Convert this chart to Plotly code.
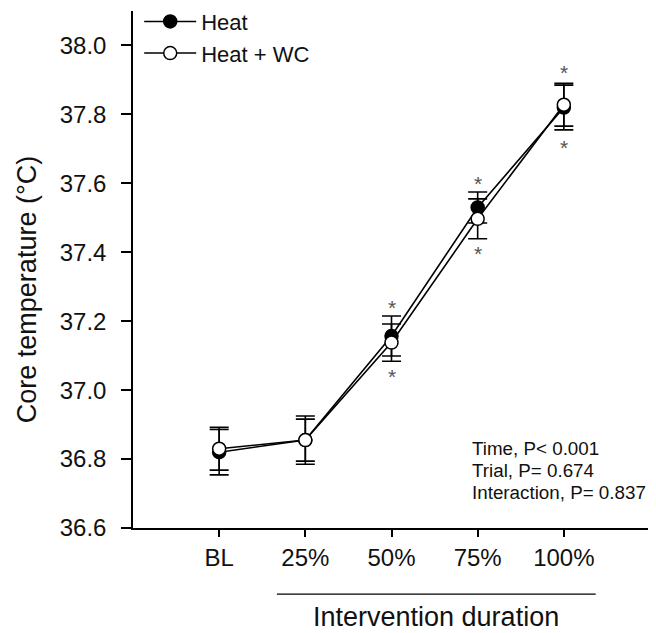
import plotly.graph_objects as go

categories = ["BL", "25%", "50%", "75%", "100%"]
heat_mean = [36.82, 36.855, 37.157, 37.53, 37.82]
heat_err = [0.066, 0.07, 0.058, 0.045, 0.065]
wc_mean = [36.83, 36.855, 37.138, 37.497, 37.828]
wc_err = [0.062, 0.061, 0.054, 0.058, 0.062]

star_x = ["50%", "50%", "75%", "75%", "100%", "100%"]
star_y = [37.249, 37.047, 37.609, 37.404, 37.929, 37.714]

y_ticks = [36.6, 36.8, 37.0, 37.2, 37.4, 37.6, 37.8, 38.0]
stats_lines = ["Time, P< 0.001", "Trial, P= 0.674", "Interaction, P= 0.837"]

FONT = "Liberation Sans, Arial, sans-serif"
TXT = "#111111"

fig = go.Figure()
fig.add_trace(go.Scatter(
    x=categories, y=heat_mean, name="Heat", mode="lines+markers",
    line=dict(color="black", width=1.6),
    marker=dict(symbol="circle", size=13, color="black", line=dict(color="black", width=1.5)),
    error_y=dict(type="data", array=heat_err, color="black", thickness=1.6, width=9.5),
))
fig.add_trace(go.Scatter(
    x=categories, y=wc_mean, name="Heat + WC", mode="lines+markers",
    line=dict(color="black", width=1.6),
    marker=dict(symbol="circle", size=13, color="white", line=dict(color="black", width=1.5)),
    error_y=dict(type="data", array=wc_err, color="black", thickness=1.6, width=9.5),
))

annotations = []
for sx, sy in zip(star_x, star_y):
    annotations.append(dict(x=sx, y=sy, xref="x", yref="y", text="*", showarrow=False,
                            font=dict(family=FONT, size=21, color="#555555"), yshift=-3))

for i, line in enumerate(stats_lines):
    annotations.append(dict(x=0.651, y=0.1547, xref="paper", yref="paper", xanchor="left", yanchor="middle",
                            align="left", showarrow=False, text=line, yshift=-22 * i,
                            font=dict(family=FONT, size=18.8, color=TXT)))

annotations.append(dict(x=2.52, y=-0.172, xref="x", yref="paper", xanchor="center", yanchor="middle",
                        showarrow=False, text="Intervention duration",
                        font=dict(family=FONT, size=27, color=TXT)))
annotations.append(dict(x=-0.205, y=0.46, xref="paper", yref="paper", xanchor="center", yanchor="middle",
                        textangle=-90, showarrow=False, text="Core temperature (°C)",
                        font=dict(family=FONT, size=27, color=TXT)))

fig.update_layout(
    width=648, height=625,
    margin=dict(l=125, r=6, t=3, b=105, autoexpand=False),
    paper_bgcolor="white", plot_bgcolor="white",
    font=dict(family=FONT, color=TXT),
    showlegend=True,
    legend=dict(x=0.012, y=1.02, xanchor="left", yanchor="top", bgcolor="rgba(0,0,0,0)",
                font=dict(family=FONT, size=22, color=TXT), itemwidth=52),
    annotations=annotations,
    shapes=[dict(type="line", xref="x", yref="paper", x0=0.67, x1=4.37, y0=-0.128, y1=-0.128,
                 line=dict(color="black", width=1.2))],
)
fig.update_xaxes(
    type="category", categoryorder="array", categoryarray=categories,
    range=[-1, 5], showline=True, linecolor="black", linewidth=1.5,
    ticks="outside", ticklen=7, tickwidth=1.5, tickcolor="black",
    tickfont=dict(family=FONT, size=24, color=TXT), ticklabelstandoff=0,
    showgrid=False, zeroline=False,
)
fig.update_yaxes(
    range=[36.6, 38.1], tickvals=y_ticks, ticktext=[f"{v:.1f}" for v in y_ticks],
    showline=True, linecolor="black", linewidth=1.5,
    ticks="outside", ticklen=10, tickwidth=1.5, tickcolor="black",
    tickfont=dict(family=FONT, size=24, color=TXT), ticklabelstandoff=10,
    showgrid=False, zeroline=False,
)

fig.write_html("out.html")
